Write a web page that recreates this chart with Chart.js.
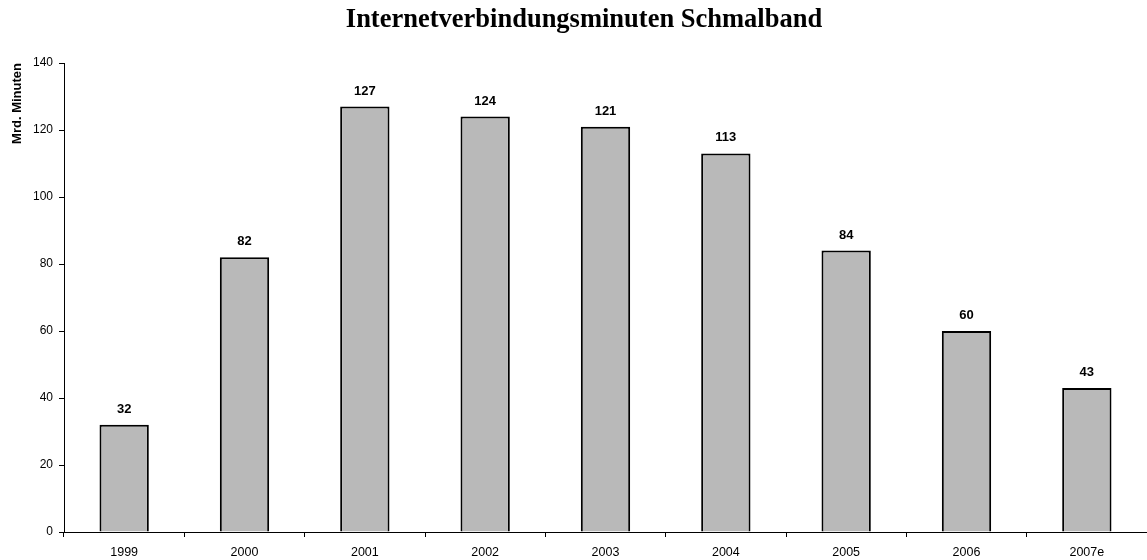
<!DOCTYPE html>
<html>
<head>
<meta charset="utf-8">
<script src="https://cdn.jsdelivr.net/npm/chart.js@4"></script>
<style>
  html, body { margin: 0; padding: 0; background: #fff; }
  #wrap { width: 1147px; height: 560px; }
</style>
</head>
<body>
<div id="wrap"><canvas id="chart"></canvas></div>
<script>
// Data
const years = ['1999', '2000', '2001', '2002', '2003', '2004', '2005', '2006', '2007e'];
const minutes = [32, 82, 127, 124, 121, 113, 84, 60, 43];
const yTicks = [0, 20, 40, 60, 80, 100, 120, 140];
const chartTitle = 'Internetverbindungsminuten Schmalband';

// Title sits slightly right of the canvas centre, so it is drawn by hand
const titlePlugin = {
    id: 'titlePlugin',
    afterDraw(chart) {
        const ctx = chart.ctx;
        ctx.save();
        ctx.font = 'bold 26.5px "Times New Roman", "Liberation Serif", serif';
        ctx.fillStyle = '#000';
        ctx.textAlign = 'center';
        ctx.textBaseline = 'alphabetic';
        ctx.fillText(chartTitle, 584, 27);
        ctx.restore();
    }
};

// Draws the value above each bar
const valueLabels = {
    id: 'valueLabels',
    afterDatasetsDraw(chart) {
        const ctx = chart.ctx;
        const meta = chart.getDatasetMeta(0);
        ctx.save();
        ctx.font = 'bold 13px Arial, "Liberation Sans", sans-serif';
        ctx.fillStyle = '#000';
        ctx.textAlign = 'center';
        ctx.textBaseline = 'alphabetic';
        meta.data.forEach((bar, i) => {
            ctx.fillText(String(minutes[i]), bar.x, bar.y - 12);
        });
        ctx.restore();
    }
};

new Chart(document.getElementById('chart'), {
    type: 'bar',
    data: {
        labels: years,
        datasets: [{
            data: minutes,
            backgroundColor: '#b9b9b9',
            borderColor: '#000',
            borderWidth: 2,
            categoryPercentage: 1,
            barPercentage: 0.41
        }]
    },
    options: {
        responsive: true,
        maintainAspectRatio: false,
        animation: false,
        layout: { padding: { left: 0, right: 0, top: 63, bottom: 0 } },
        plugins: {
            legend: { display: false },
            tooltip: { enabled: false },
            title: { display: false }
        },
        scales: {
            x: {
                offset: true,
                grid: { display: true, drawOnChartArea: false, drawTicks: true, tickLength: 5, offset: true, color: '#000' },
                border: { color: '#000', width: 1 },
                ticks: { color: '#000', font: { family: 'Arial, "Liberation Sans", sans-serif', size: 12.5 }, padding: 8, maxRotation: 0 },
                afterFit(scale) { scale.height = 28; }
            },
            y: {
                min: 0,
                max: 140,
                afterBuildTicks(scale) { scale.ticks = yTicks.map(v => ({ value: v })); },
                grid: { display: true, drawOnChartArea: false, drawTicks: true, tickLength: 5, color: '#000' },
                border: { color: '#000', width: 1 },
                ticks: { color: '#000', font: { family: 'Arial, "Liberation Sans", sans-serif', size: 12 }, padding: 6 },
                title: {
                    display: true,
                    text: 'Mrd. Minuten',
                    align: 'end',
                    color: '#000',
                    font: { family: 'Arial, "Liberation Sans", sans-serif', size: 13, weight: 'bold' },
                    padding: { top: 10, bottom: 0 }
                },
                afterFit(scale) { scale.width = 64; }
            }
        }
    },
    plugins: [valueLabels, titlePlugin]
});
</script>
</body>
</html>
